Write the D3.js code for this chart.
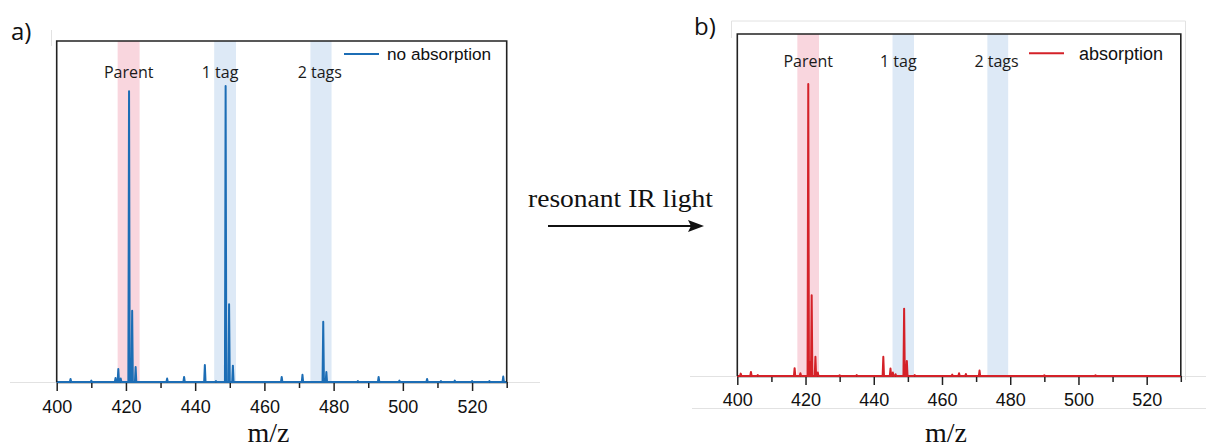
<!DOCTYPE html>
<html>
<head>
<meta charset="utf-8">
<script src="https://cdn.jsdelivr.net/npm/d3@7"></script>
<style>
  html, body { margin: 0; padding: 0; background: #fff; }
  svg { display: block; }
</style>
</head>
<body>
<svg id="chart" width="1206" height="446"></svg>
<script>
// ---------- data ----------
const xDomain = [400, 530];
const majorTicks = [400, 420, 440, 460, 480, 500, 520];
const minorTicks = [410, 430, 450, 470, 490, 510, 530];

const bandNames = ["Parent", "1 tag", "2 tags"];
const bandStart = [417.6, 445.5, 473.3];
const bandEnd = [423.95, 451.8, 479.4];
const bandLabelMz = [420.8, 447.2, 476.0];

// panel a: no absorption (peak m/z and relative intensity, 0..100 = frame height)
const noAbsMz = [404, 410, 417, 417.8, 418.5, 420.9, 421.4, 421.8, 422.8, 431.9, 436.8, 442.8, 446, 448.8, 449.8, 450.9, 465, 471, 477, 477.9, 487, 493, 499, 507, 511, 515, 520, 525, 529];
const noAbsInt = [0.9, 0.4, 1.2, 3.8, 1.0, 85.3, 3.0, 20.9, 4.4, 1.0, 1.5, 5.0, 0.3, 86.8, 22.8, 4.8, 1.5, 2.1, 17.7, 2.9, 0.3, 1.5, 0.4, 0.9, 0.3, 0.4, 0.3, 0.3, 1.6];

// panel b: absorption
const absMz = [401, 404, 406, 416.8, 418.5, 420.8, 421.3, 421.8, 422.9, 423.6, 430, 435, 442.8, 444.9, 445.6, 446.4, 448.9, 449.7, 452, 463, 465, 467, 471, 490, 505];
const absInt = [0.7, 1.2, 0.3, 2.3, 0.8, 85.4, 4.0, 23.6, 5.6, 1.0, 0.2, 0.3, 5.6, 2.2, 1.0, 0.5, 19.7, 4.4, 0.3, 0.4, 0.8, 0.6, 1.6, 0.2, 0.2];

// ---------- drawing ----------
const svg = d3.select("#chart");
const pink = "#f9d6de", lightBlue = "#dde9f6";
const bandColors = [pink, lightBlue, lightBlue];
const faint = "#e2e2e2";

function drawPanel(cfg) {
  const x = d3.scaleLinear().domain(xDomain).range([cfg.left, cfg.right]);
  const y = d3.scaleLinear().domain([0, 100]).range([cfg.bottom, cfg.top]);
  const g = svg.append("g");

  // bands
  g.selectAll("rect.band").data(bandNames).enter().append("rect")
    .attr("x", (d, i) => x(bandStart[i]))
    .attr("width", (d, i) => x(bandEnd[i]) - x(bandStart[i]))
    .attr("y", cfg.top).attr("height", cfg.bottom - cfg.top)
    .attr("fill", (d, i) => bandColors[i]);

  // band labels
  g.selectAll("text.blabel").data(bandNames).enter().append("text")
    .attr("x", (d, i) => x(bandLabelMz[i]))
    .attr("y", cfg.labelY)
    .attr("text-anchor", "middle")
    .attr("font-family", "'Open Sans', sans-serif")
    .attr("font-size", 16)
    .attr("fill", "#1a1a1a")
    .text(d => d);

  // axes
  const ax = g.append("g").attr("transform", `translate(0,${cfg.bottom})`)
    .call(d3.axisBottom(x).tickValues(majorTicks).tickSize(9).tickSizeOuter(0).tickFormat(d3.format("d")));
  ax.select(".domain").attr("stroke", "#222").attr("stroke-width", 1.5);
  ax.selectAll(".tick line").attr("stroke", "#222").attr("stroke-width", 1.5);
  ax.selectAll(".tick text").attr("font-family", "'Liberation Sans', Arial, sans-serif")
    .attr("font-size", 18).attr("fill", "#111").attr("dy", "0").attr("y", cfg.tickLabelOffset);
  const mx = g.append("g").attr("transform", `translate(0,${cfg.bottom})`)
    .call(d3.axisBottom(x).tickValues(minorTicks).tickSize(6).tickSizeOuter(0).tickFormat(""));
  mx.select(".domain").remove();
  mx.selectAll(".tick line").attr("stroke", "#222").attr("stroke-width", 1.5);

  // spectrum (stick peaks joined along the baseline)
  const pts = [[xDomain[0], 0]];
  cfg.mz.forEach((m, i) => {
    pts.push([m - 0.2, 0], [m, cfg.inten[i]], [m + 0.2, 0]);
  });
  pts.push([xDomain[1], 0]);
  const line = d3.line().x(d => x(d[0])).y(d => y(d[1]));
  g.append("path").datum(pts)
    .attr("d", line)
    .attr("fill", "none")
    .attr("stroke", cfg.color)
    .attr("stroke-width", 2)
    .attr("stroke-linejoin", "round");

  // frame (left, top, right)
  g.append("path")
    .attr("d", `M${cfg.left},${cfg.bottom}V${cfg.top}H${cfg.right}V${cfg.bottom}`)
    .attr("fill", "none").attr("stroke", "#222").attr("stroke-width", 1.6);

  // legend
  g.append("line")
    .attr("x1", cfg.legX1).attr("x2", cfg.legX2)
    .attr("y1", cfg.legY).attr("y2", cfg.legY)
    .attr("stroke", cfg.color).attr("stroke-width", 2);
  g.append("text")
    .attr("x", cfg.legTextX).attr("y", cfg.legTextY)
    .attr("font-family", "'Liberation Sans', Arial, sans-serif")
    .attr("font-size", cfg.legFont).attr("fill", "#111")
    .text(cfg.legend);

  // x title
  g.append("text")
    .attr("x", cfg.titleX).attr("y", 441.5)
    .attr("text-anchor", "middle")
    .attr("font-family", "'Liberation Serif', 'Times New Roman', serif")
    .attr("font-size", 28).attr("fill", "#111")
    .text("m/z");

  // panel letter
  g.append("text")
    .attr("x", cfg.letterX).attr("y", cfg.letterY)
    .attr("font-family", "'Open Sans', sans-serif")
    .attr("font-size", 24).attr("fill", "#111")
    .text(cfg.letter);
}

// faint composition artifacts
svg.append("line").attr("x1", 10).attr("x2", 540).attr("y1", 382.5).attr("y2", 382.5).attr("stroke", faint);
svg.append("line").attr("x1", 51.5).attr("x2", 51.5).attr("y1", 30).attr("y2", 46).attr("stroke", faint);
svg.append("path").attr("d", "M731.5,38V21H1185.5V380").attr("fill", "none").attr("stroke", faint);
svg.append("line").attr("x1", 690).attr("x2", 1206).attr("y1", 376.5).attr("y2", 376.5).attr("stroke", faint);
svg.append("line").attr("x1", 692).attr("x2", 1206).attr("y1", 408.5).attr("y2", 408.5).attr("stroke", faint);

drawPanel({
  left: 56.7, right: 506.7, top: 41, bottom: 382,
  mz: noAbsMz, inten: noAbsInt, color: "#1c6db5",
  labelY: 78, tickLabelOffset: 31,
  legX1: 344, legX2: 379, legY: 54, legTextX: 387, legTextY: 60, legFont: 17.2, legend: "no absorption",
  titleX: 268.5, letter: "a)", letterX: 11, letterY: 40
});
drawPanel({
  left: 737.3, right: 1180.8, top: 34, bottom: 376,
  mz: absMz, inten: absInt, color: "#d42128",
  labelY: 67, tickLabelOffset: 30,
  legX1: 1029, legX2: 1064, legY: 53.3, legTextX: 1079, legTextY: 59.5, legFont: 18, legend: "absorption",
  titleX: 946, letter: "b)", letterX: 694, letterY: 35
});

// arrow + annotation
svg.append("text")
  .attr("x", 528).attr("y", 206.5)
  .attr("font-family", "'Liberation Serif', 'Times New Roman', serif")
  .attr("font-size", 25).attr("fill", "#111")
  .attr("textLength", 185).attr("lengthAdjust", "spacingAndGlyphs")
  .text("resonant IR light");
svg.append("line").attr("x1", 548).attr("x2", 692).attr("y1", 226).attr("y2", 226)
  .attr("stroke", "#111").attr("stroke-width", 2);
svg.append("path").attr("d", "M688,220L704,226L688,232L691,226Z").attr("fill", "#111");
</script>
</body>
</html>
